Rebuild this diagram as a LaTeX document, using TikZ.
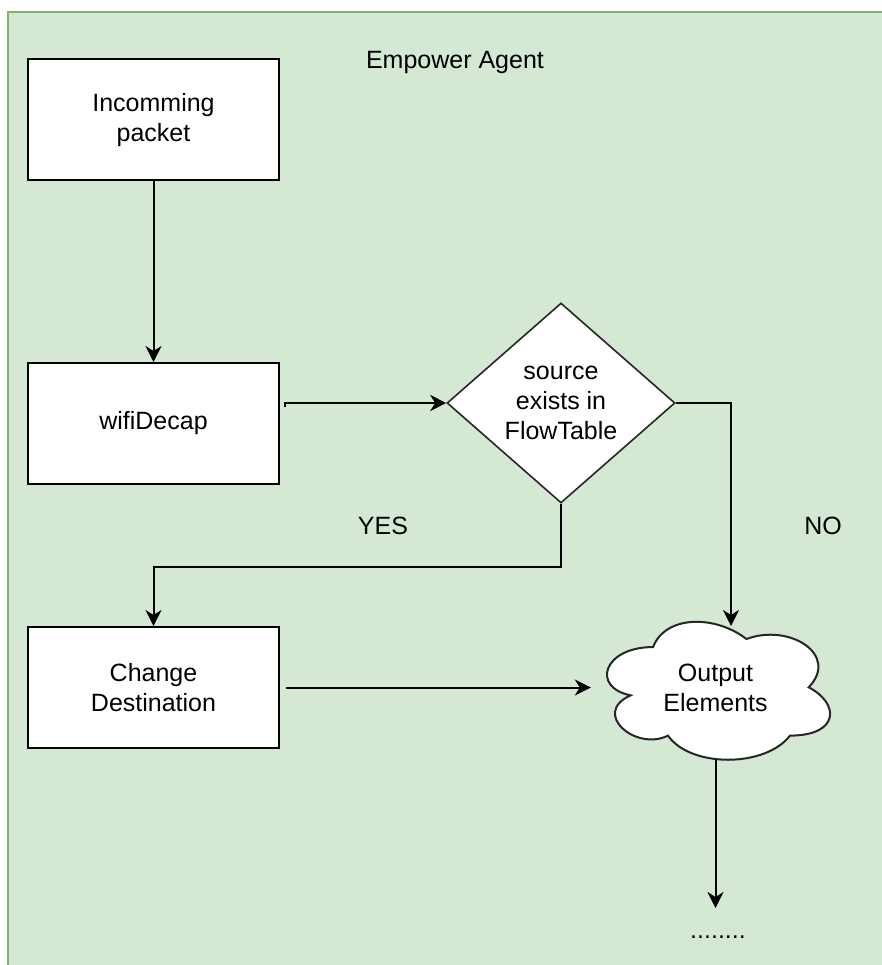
\documentclass[tikz,border=0pt]{standalone}
\usepackage{fontspec}
\setmainfont{Liberation Sans}
\usetikzlibrary{shapes.geometric,arrows.meta}
\pgfdeclarelayer{bg}
\pgfsetlayers{bg,main}
\definecolor{panelfill}{HTML}{D5E8D4}
\definecolor{panelline}{HTML}{82B366}
\begin{document}
\begin{tikzpicture}[x=1pt,y=-1pt,
  every node/.style={font=\fontsize{25}{30}\selectfont, align=center},
  stepbox/.style={draw=black, fill=white, line width=2pt, minimum width=251pt, minimum height=121pt, inner sep=0pt},
  decision/.style={diamond, draw=black!85, fill=white, line width=1.6pt, minimum width=228pt, minimum height=200pt, aspect=1.14, inner sep=0pt},
  cloudline/.style={draw=black!85, fill=white, line width=2pt},
  flow/.style={line width=2pt, -{Stealth[length=16pt,width=16pt,inset=5pt]}},
  tag/.style={inner sep=0pt}]
\useasboundingbox (0,0) rectangle (882,965);
\clip (0,0) rectangle (882,965);

% container panel
\begin{pgfonlayer}{bg}
  \draw[fill=panelfill, draw=panelline, line width=2pt] (8,12) rectangle (900,990);
\end{pgfonlayer}

\node[tag] (title) at (455,62) {Empower Agent};

% process steps
\node[stepbox] (in)  at (153.5,120)   {Incomming\\packet};
\node[stepbox] (dec) at (153.5,423.5) {wifiDecap};
\node[stepbox] (chg) at (153.5,687.5) {Change\\Destination};

% decision
\node[decision] (dia) at (561,403) {source\\exists in\\FlowTable};

% output cloud
\node[inner sep=0pt, minimum width=249pt, minimum height=161pt] (out) at (715.5,687.5) {Output\\Elements};
\begin{pgfonlayer}{bg}
  \begin{scope}[shift={(out.north west)}, x=249pt, y=-161pt]
    \path[cloudline] (0.25,0.25)
      .. controls (0.05,0.25) and (0,0.5) .. (0.16,0.55)
      .. controls (0,0.66) and (0.18,0.9) .. (0.31,0.8)
      .. controls (0.4,1) and (0.7,1) .. (0.8,0.8)
      .. controls (1,0.8) and (1,0.6) .. (0.875,0.5)
      .. controls (1,0.3) and (0.8,0.1) .. (0.625,0.2)
      .. controls (0.5,0.05) and (0.3,0.05) .. (0.25,0.25) -- cycle;
  \end{scope}
\end{pgfonlayer}

% branch labels
\node[tag] (yes) at (383,526) {YES};
\node[tag] (no)  at (823,526) {NO};

% free connector ends
\coordinate (decout)   at (285,403);
\coordinate (cloudtop) at (731,626);
\coordinate (cloudbot) at (715.5,760);
\coordinate (tail)     at (715.5,908);
\node[tag] (more) at (718,937) {........};

% connectors
\draw[flow] (in.south) -- (dec.north);
\draw[flow] ([yshift=-4pt]decout) -- (decout) -- (dia.west);
\draw[flow] (dia.south) -- ++(0,63) -| (chg.north);
\draw[flow] (dia.east) -| (cloudtop);
\draw[flow] ([xshift=6pt]chg.east) -- (out.west);
\draw[flow] (cloudbot) -- (tail);
\end{tikzpicture}
\end{document}
